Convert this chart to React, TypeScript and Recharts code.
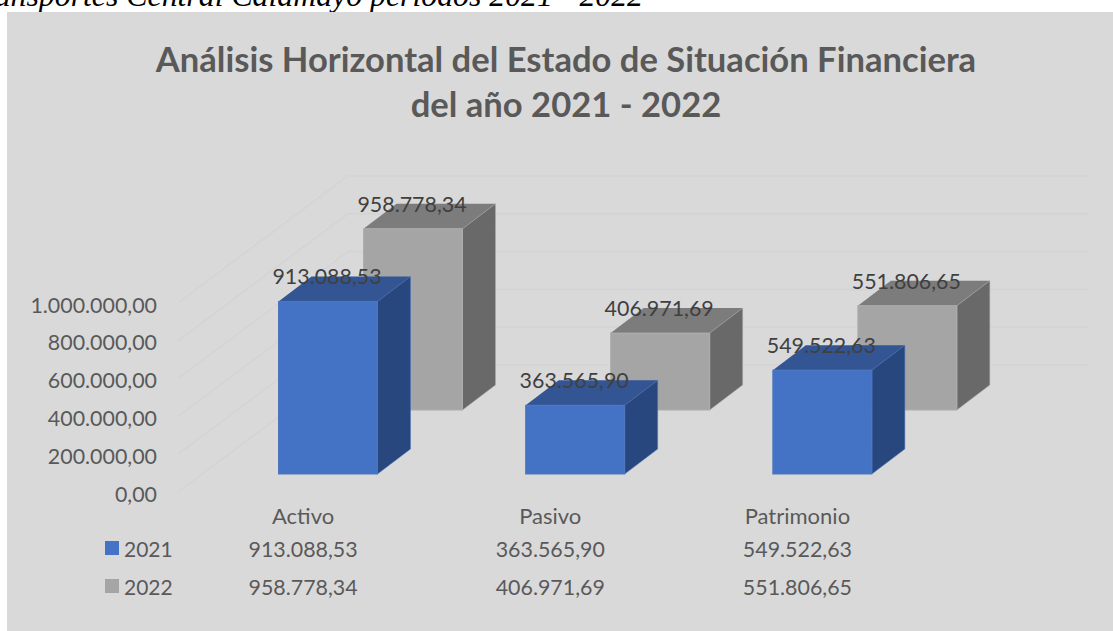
import { BarChart, Bar, XAxis, YAxis, CartesianGrid, LabelList } from 'recharts';

const categories = ['Activo', 'Pasivo', 'Patrimonio'];
const values2021 = [913088.53, 363565.9, 549522.63];
const values2022 = [958778.34, 406971.69, 551806.65];
const yTicks = [0, 200000, 400000, 600000, 800000, 1000000];

const data = categories.map((name, i) => ({ name, y2021: values2021[i], y2022: values2022[i] }));

const FONT = 'Lato, sans-serif';
const DEPTH_X = 33;
const DEPTH_Y = 25;

const BLUE = { front: '#4472c4', top: '#335593', side: '#28477f', edge: '#4f76bd' };
const GRAY = { front: '#a5a5a5', top: '#7c7c7c', side: '#696969', edge: '#adadad' };

// bars sit on the 3D floor, so each series is pushed away from the axis plane
const FRONT_SHIFT = { x: 25, y: -20 };
const BACK_SHIFT = { x: 110, y: -84 };

const fmt = (v: number) => {
  const [a, b] = v.toFixed(2).split('.');
  return a.replace(/\B(?=(\d{3})+(?!\d))/g, '.') + ',' + b;
};

const Cube = (p: any) => {
  const x = p.x + p.shift.x;
  const y = p.y + p.shift.y;
  const w = p.width;
  const h = p.height;
  const c = p.colors;
  return (
    <g>
      <polygon
        points={`${x},${y} ${x + DEPTH_X},${y - DEPTH_Y} ${x + w + DEPTH_X},${y - DEPTH_Y} ${x + w},${y}`}
        fill={c.top}
      />
      <polygon
        points={`${x + w},${y} ${x + w + DEPTH_X},${y - DEPTH_Y} ${x + w + DEPTH_X},${y + h - DEPTH_Y} ${x + w},${y + h}`}
        fill={c.side}
        stroke={c.edge}
        strokeWidth={0.5}
      />
      <rect x={x} y={y} width={w} height={h} fill={c.front} stroke={c.edge} strokeWidth={1} />
    </g>
  );
};

const barLabel = (shift: { x: number; y: number }) => (p: any) => (
  <text
    x={p.x + shift.x + p.width / 2 - 1}
    y={p.y + shift.y - 25}
    textAnchor="middle"
    dominantBaseline="central"
    fontFamily={FONT}
    fontSize={21.4}
    fill="#404040"
  >
    {fmt(p.value)}
  </text>
);

const wallLine = (p: any) => (
  <path
    key={p.key}
    d={`M${p.x1},${p.y1 - 2} L${p.x1 + 170},${p.y1 - 129} L${p.x2},${p.y1 - 129}`}
    fill="none"
    stroke="#d4d4d4"
    strokeWidth={1.5}
  />
);

const TableTick = (p: any) => {
  const i = p.payload.index;
  const rows = [categories[i], fmt(values2021[i]), fmt(values2022[i])];
  const rowY = [515, 549, 587];
  return (
    <g>
      {rows.map((t, r) => (
        <text
          key={r}
          x={p.x}
          y={rowY[r]}
          textAnchor="middle"
          dominantBaseline="central"
          fontFamily={FONT}
          fontSize={r === 0 ? 22 : 21.4}
          fill="#595959"
        >
          {t}
        </text>
      ))}
    </g>
  );
};

const LegendKey = ({ top, color, label }: { top: number; color: string; label: string }) => (
  <div style={{ position: 'absolute', left: 105, top, display: 'flex', alignItems: 'center', height: 24 }}>
    <span style={{ width: 14, height: 14, background: color, display: 'inline-block', marginRight: 5 }} />
    <span style={{ fontFamily: FONT, fontSize: 21, color: '#595959' }}>{label}</span>
  </div>
);

export default function App() {
  return (
    <div style={{ position: 'fixed', left: 0, top: 0, width: 1113, height: 631, background: '#fff', overflow: 'hidden' }}>
      <div style={{ position: 'absolute', right: 470, top: -24, height: 36, overflow: 'hidden', whiteSpace: 'nowrap', fontFamily: '"Liberation Serif", serif', fontStyle: 'italic', fontSize: 31.8, lineHeight: '40px', color: '#000' }}>
        Transportes Central Calamayo períodos 2021 - 2022
      </div>
      <div style={{ position: 'absolute', left: 7, top: 12, width: 1106, height: 619, background: '#d9d9d9' }} />
      <div style={{ position: 'absolute', left: 7, top: 36, width: 1118, textAlign: 'center', fontFamily: FONT, fontWeight: 700, fontSize: 34.6, lineHeight: '45px', color: '#595959' }}>
        Análisis Horizontal del Estado de Situación Financiera
        <br />
        del año 2021 - 2022
      </div>
      <div style={{ position: 'absolute', left: 0, top: 0 }}>
        <BarChart
          width={1113}
          height={631}
          data={data}
          margin={{ top: 305, right: 24, bottom: 0, left: 0 }}
          barSize={99}
          barGap={-99}
        >
          <CartesianGrid vertical={false} horizontal={wallLine} />
          <XAxis
            dataKey="name"
            height={137}
            padding={{ left: 1.5, right: 168 }}
            axisLine={false}
            tickLine={false}
            tick={<TableTick />}
            interval={0}
          />
          <YAxis
            width={178}
            domain={[0, 1000000]}
            ticks={yTicks}
            tickFormatter={fmt}
            axisLine={false}
            tickLine={false}
            tickMargin={15}
            tick={{ fontFamily: FONT, fontSize: 21.4, fill: '#595959' }}
          />
          <Bar
            dataKey="y2022"
            isAnimationActive={false}
            shape={(p: any) => <Cube {...p} shift={BACK_SHIFT} colors={GRAY} />}
          >
            <LabelList dataKey="y2022" content={barLabel(BACK_SHIFT)} />
          </Bar>
          <Bar
            dataKey="y2021"
            isAnimationActive={false}
            shape={(p: any) => <Cube {...p} shift={FRONT_SHIFT} colors={BLUE} />}
          >
            <LabelList dataKey="y2021" content={barLabel(FRONT_SHIFT)} />
          </Bar>
        </BarChart>
      </div>
      <LegendKey top={536} color="#4472c4" label="2021" />
      <LegendKey top={574} color="#a5a5a5" label="2022" />
    </div>
  );
}
